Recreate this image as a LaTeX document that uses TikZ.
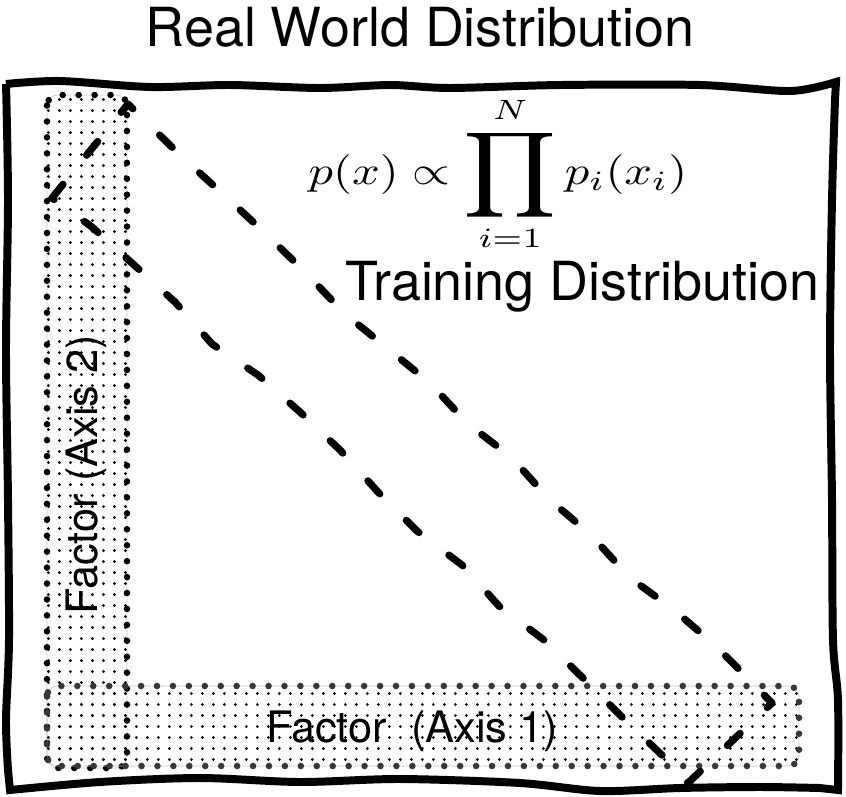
\documentclass[tikz,border=0pt]{standalone}
\usepackage{fontspec}
\setmainfont{TeX Gyre Heros}
\usepackage{graphicx}
\usetikzlibrary{patterns.meta}
\tikzdeclarepattern{
  name=sparsedots,
  type=uncolored,
  bottom left={(0pt,0pt)},
  top right={(9.35pt,9.35pt)},
  tile size={(9.35pt,9.35pt)},
  code={\pgfpathcircle{\pgfpoint{4.675pt}{4.675pt}}{1.3pt}\pgfusepath{fill}}
}
\begin{document}
\begin{tikzpicture}[
    x=0.3mm, y=-0.3mm,
    frame/.style={line width=6.8pt, line join=miter},
    factorbox/.style={draw=#1, line width=5.6pt, dash pattern=on 0pt off 13.6pt, line cap=round,
      rounded corners=9pt, pattern=sparsedots, pattern color=black,
      preaction={draw=black!22, line width=0.6pt, solid}},
    trainband/.style={line width=6.2pt, line cap=round, line join=round, dash pattern=on 15pt off 32pt},
    bigtext/.style={font=\fontsize{46}{52}\selectfont, inner sep=0pt},
    axistext/.style={font=\fontsize{37}{42}\selectfont, inner sep=0pt},
]
\useasboundingbox (0,0) rectangle (846,797);

% Hand drawn frame
\draw[frame] plot[smooth] coordinates {(6,84) (60,81) (150,87) (230,85) (320,88) (390,85) (450,88) (560,85) (700,85) (790,91) (836,82)}
  -- plot[smooth] coordinates {(835,100) (832,200) (830,350) (832,500) (833,640) (838,700) (838,790)}
  -- plot[smooth] coordinates {(820,788) (760,787) (680,788) (600,791) (520,783) (400,779) (300,782) (200,778) (100,782) (10,790)}
  -- plot[smooth] coordinates {(8,770) (6,720) (9,640) (8,500) (6,350) (8,200) (6,84)};

% Factor boxes
\draw[factorbox=black] (47,95) rectangle (127,768);
\draw[factorbox=black!78] (47,686) rectangle (799,766);

% Training distribution band
\draw[trainband] (52,198) -- (128,104) -- (182,157) -- (224,195) -- (265,233) -- (305,272)
  -- (344,313) -- (387,348) -- (430,383) -- (467,423) -- (511,457) -- (549,499) -- (591,535)
  -- (629,577) -- (674,610) -- (716,646) -- (772,703) -- (688,783) -- (664,757) -- (623,718)
  -- (585,680) -- (544,640) -- (499,606) -- (462,565) -- (417,531) -- (378,492) -- (340,450)
  -- (300,412) -- (258,375) -- (212,344) -- (175,302) -- (133,264) -- (92,227) -- cycle;

% Labels
\node[bigtext, anchor=base] (realworld) at (420,46) {Real World Distribution};
\node[bigtext, anchor=base west] (training) at (345,300) {Training Distribution};
\node[inner sep=0pt] (product) at (498,174)
  {\scalebox{4.15}[3.4]{$\displaystyle p(x) \propto \mathop{\vcenter{\hbox{\scalebox{1.5}[1.5]{$\displaystyle\prod$}}}}\limits_{i=1}^{N} p_i(x_i)$}};
\node[axistext, anchor=base] (axisone) at (412,742) {Factor~ (Axis 1)};
\node[axistext, anchor=base, rotate=90] (axistwo) at (97,475) {Factor (Axis 2)};

\end{tikzpicture}
\end{document}
